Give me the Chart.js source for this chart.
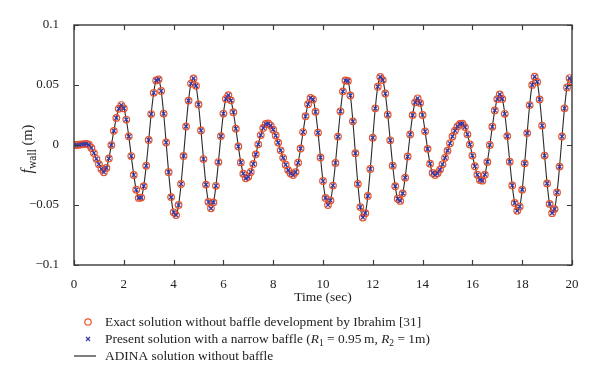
<!DOCTYPE html>
<html><head><meta charset="utf-8">
<script src="https://cdn.jsdelivr.net/npm/chart.js@4.4.1/dist/chart.umd.min.js"></script>
<style>html,body{margin:0;padding:0;background:#fff}#wrap{width:600px;height:381px;position:relative}</style>
</head><body><div id="wrap"><canvas id="c" width="600" height="381"></canvas></div>
<script>
// Time axis (s)
const timeSec = [0,0.1,0.2,0.3,0.4,0.5,0.6,0.7,0.8,0.9,1,1.1,1.2,1.3,1.4,1.5,1.6,1.7,1.8,1.9,
2,2.1,2.2,2.3,2.4,2.5,2.6,2.7,2.8,2.9,3,3.1,3.2,3.3,3.4,3.5,3.6,3.7,3.8,3.9,
4,4.1,4.2,4.3,4.4,4.5,4.6,4.7,4.8,4.9,5,5.1,5.2,5.3,5.4,5.5,5.6,5.7,5.8,5.9,
6,6.1,6.2,6.3,6.4,6.5,6.6,6.7,6.8,6.9,7,7.1,7.2,7.3,7.4,7.5,7.6,7.7,7.8,7.9,
8,8.1,8.2,8.3,8.4,8.5,8.6,8.7,8.8,8.9,9,9.1,9.2,9.3,9.4,9.5,9.6,9.7,9.8,9.9,
10,10.1,10.2,10.3,10.4,10.5,10.6,10.7,10.8,10.9,11,11.1,11.2,11.3,11.4,11.5,11.6,11.7,11.8,11.9,
12,12.1,12.2,12.3,12.4,12.5,12.6,12.7,12.8,12.9,13,13.1,13.2,13.3,13.4,13.5,13.6,13.7,13.8,13.9,
14,14.1,14.2,14.3,14.4,14.5,14.6,14.7,14.8,14.9,15,15.1,15.2,15.3,15.4,15.5,15.6,15.7,15.8,15.9,
16,16.1,16.2,16.3,16.4,16.5,16.6,16.7,16.8,16.9,17,17.1,17.2,17.3,17.4,17.5,17.6,17.7,17.8,17.9,
18,18.1,18.2,18.3,18.4,18.5,18.6,18.7,18.8,18.9,19,19.1,19.2,19.3,19.4,19.5,19.6,19.7,19.8,19.9,20];

// f_wall (m)
const fWall = [0.0000,0.0000,0.0002,0.0005,0.0008,0.0009,0.0002,-0.0025,-0.0067,-0.0115,
-0.0160,-0.0200,-0.0227,-0.0191,-0.0112,-0.0001,0.0118,0.0226,0.0302,0.0333,
0.0305,0.0212,0.0072,-0.0092,-0.0250,-0.0373,-0.0441,-0.0438,-0.0343,-0.0173,
0.0042,0.0258,0.0435,0.0538,0.0547,0.0450,0.0262,0.0021,-0.0227,-0.0434,
-0.0561,-0.0584,-0.0500,-0.0325,-0.0091,0.0155,0.0370,0.0512,0.0555,0.0493,
0.0338,0.0121,-0.0117,-0.0330,-0.0475,-0.0528,-0.0478,-0.0340,-0.0142,0.0074,
0.0262,0.0385,0.0416,0.0372,0.0273,0.0136,-0.0012,-0.0145,-0.0239,-0.0278,
-0.0265,-0.0224,-0.0158,-0.0078,0.0006,0.0083,0.0142,0.0175,0.0179,0.0162,
0.0128,0.0079,0.0020,-0.0044,-0.0107,-0.0164,-0.0209,-0.0238,-0.0250,-0.0226,
-0.0148,-0.0029,0.0108,0.0240,0.0340,0.0392,0.0379,0.0277,0.0103,-0.0104,
-0.0300,-0.0441,-0.0500,-0.0462,-0.0338,-0.0150,0.0070,0.0281,0.0447,0.0538,
0.0534,0.0413,0.0197,-0.0068,-0.0325,-0.0517,-0.0604,-0.0568,-0.0424,-0.0200,
0.0061,0.0306,0.0486,0.0568,0.0541,0.0429,0.0252,0.0039,-0.0172,-0.0343,
-0.0448,-0.0466,-0.0403,-0.0272,-0.0096,0.0088,0.0249,0.0356,0.0389,0.0349,
0.0250,0.0114,-0.0032,-0.0156,-0.0233,-0.0250,-0.0235,-0.0205,-0.0161,-0.0107,
-0.0047,0.0014,0.0071,0.0119,0.0155,0.0176,0.0178,0.0149,0.0089,0.0005,
-0.0088,-0.0177,-0.0248,-0.0291,-0.0297,-0.0247,-0.0141,0.0000,0.0152,0.0288,
0.0383,0.0422,0.0384,0.0260,0.0074,-0.0139,-0.0337,-0.0483,-0.0548,-0.0513,
-0.0372,-0.0153,0.0099,0.0333,0.0501,0.0569,0.0526,0.0380,0.0162,-0.0088,
-0.0320,-0.0491,-0.0568,-0.0534,-0.0395,-0.0180,0.0071,0.0306,0.0480,0.0558,0.0530];

const xTickValues = [0,2,4,6,8,10,12,14,16,18,20];
const xTickLabels = ['0','2','4','6','8','10','12','14','16','18','20'];
const yTickValues = [-0.1,-0.05,0,0.05,0.1];
const yTickLabels = ['\u22120.1','\u22120.05','0','0.05','0.1'];

const exactLabel = 'Exact solution without baffle development by Ibrahim [31]';
const presentLabel = 'Present solution with a narrow baffle';
const adinaLabel = 'ADINA solution without baffle';
const xTitle = 'Time (sec)';

const SERIF = '"Liberation Serif", "Times New Roman", serif';
const CIRCLE_COLOR = '#e8522a';
const CROSS_COLOR = '#3a38a8';
const LINE_COLOR = '#2a2a2a';
const AXIS_COLOR = '#3a3a3a';

function toXY(xs, ys){ return xs.map((x,i)=>({x:x, y:ys[i]})); }

function drawRich(ctx, parts, x, y){
  let cx = x;
  for (const p of parts){
    ctx.font = p.font;
    ctx.fillText(p.t, cx, y + (p.dy||0));
    cx += ctx.measureText(p.t).width;
  }
  return cx - x;
}
function richWidth(ctx, parts){
  let w = 0;
  for (const p of parts){ ctx.font = p.font; w += ctx.measureText(p.t).width; }
  return w;
}

const decorPlugin = {
  id: 'decor',
  afterDraw(chart){
    const ctx = chart.ctx;
    const a = chart.chartArea;
    const xs = chart.scales.x, ys = chart.scales.y;
    ctx.save();
    // box
    ctx.strokeStyle = AXIS_COLOR;
    ctx.lineWidth = 1.4;
    ctx.strokeRect(a.left, a.top, a.right - a.left, a.bottom - a.top);
    // inward ticks
    ctx.lineWidth = 1.2;
    const tl = 5;
    ctx.beginPath();
    xTickValues.forEach(v=>{
      const px = Math.round(xs.getPixelForValue(v)) + 0.5;
      ctx.moveTo(px, a.bottom); ctx.lineTo(px, a.bottom - tl);
      ctx.moveTo(px, a.top); ctx.lineTo(px, a.top + tl);
    });
    yTickValues.forEach(v=>{
      const py = Math.round(ys.getPixelForValue(v)) + 0.5;
      ctx.moveTo(a.left, py); ctx.lineTo(a.left + tl, py);
      ctx.moveTo(a.right, py); ctx.lineTo(a.right - tl, py);
    });
    ctx.stroke();

    ctx.fillStyle = '#222';
    ctx.textBaseline = 'alphabetic';
    // x title
    ctx.font = '13.5px ' + SERIF;
    ctx.textAlign = 'center';
    ctx.fillText(xTitle, (a.left + a.right)/2, 301);
    ctx.textAlign = 'left';

    // y title (rotated)
    const yParts = [
      {t:'f', font:'italic 16px ' + SERIF},
      {t:'wall', font:'11.5px ' + SERIF, dy:3.5},
      {t:' (m)', font:'14.5px ' + SERIF}
    ];
    ctx.save();
    ctx.translate(32, 149);
    ctx.rotate(-Math.PI/2);
    const w = richWidth(ctx, yParts);
    drawRich(ctx, yParts, -w/2, 0);
    ctx.restore();

    // legend
    const tx = 105;
    const rows = [322, 339, 356];
    // row 1: circle
    ctx.strokeStyle = CIRCLE_COLOR; ctx.lineWidth = 1.2;
    ctx.beginPath(); ctx.arc(88, rows[0], 3.2, 0, Math.PI*2); ctx.stroke();
    // row 2: cross
    ctx.strokeStyle = CROSS_COLOR; ctx.lineWidth = 1.2;
    ctx.beginPath();
    ctx.moveTo(86, rows[1]-2); ctx.lineTo(90, rows[1]+2);
    ctx.moveTo(90, rows[1]-2); ctx.lineTo(86, rows[1]+2);
    ctx.stroke();
    // row 3: line
    ctx.strokeStyle = LINE_COLOR; ctx.lineWidth = 1.2;
    ctx.beginPath(); ctx.moveTo(74, rows[2]); ctx.lineTo(96, rows[2]); ctx.stroke();

    const F = '13.4px ' + SERIF, FI = 'italic 13.4px ' + SERIF, FS = '9.5px ' + SERIF;
    ctx.fillStyle = '#222';
    drawRich(ctx, [{t:exactLabel, font:F}], tx, rows[0] + 4);
    drawRich(ctx, [
      {t:presentLabel + ' (', font:F},
      {t:'R', font:FI}, {t:'1', font:FS, dy:3},
      {t:' = 0.95\u2009m, ', font:F},
      {t:'R', font:FI}, {t:'2', font:FS, dy:3},
      {t:' = 1m)', font:F}
    ], tx, rows[1] + 4);
    drawRich(ctx, [{t:adinaLabel, font:F}], tx, rows[2] + 4);
    ctx.restore();
  }
};

new Chart(document.getElementById('c'), {
  type: 'scatter',
  data: {
    datasets: [
      { label: 'ADINA', type: 'line', data: toXY(timeSec, fWall), borderColor: LINE_COLOR,
        borderWidth: 1.1, pointRadius: 0, tension: 0.4, fill: false, order: 3 },
      { label: 'Exact', data: toXY(timeSec, fWall), pointStyle: 'circle', pointRadius: 3.3,
        backgroundColor: 'rgba(0,0,0,0)', borderColor: CIRCLE_COLOR, borderWidth: 1.2, order: 2 },
      { label: 'Present', data: toXY(timeSec, fWall), pointStyle: 'crossRot', pointRadius: 2.7,
        borderColor: CROSS_COLOR, borderWidth: 1.3, order: 1 }
    ]
  },
  options: {
    responsive: false, animation: false, devicePixelRatio: 1,
    layout: { padding: { left: 0, top: 25, right: 28, bottom: 0 } },
    plugins: { legend: { display: false }, tooltip: { enabled: false } },
    scales: {
      x: {
        type: 'linear', min: 0, max: 20,
        afterFit: s => { s.height = 116; },
        afterBuildTicks: s => { s.ticks = xTickValues.map(v=>({value:v})); },
        grid: { display: false }, border: { display: false },
        ticks: { padding: 4, color: '#222', font: { family: SERIF, size: 13 },
          maxRotation: 0, autoSkip: false,
          callback: (v) => { const i = xTickValues.indexOf(v); return i >= 0 ? xTickLabels[i] : ''; } }
      },
      y: {
        min: -0.1, max: 0.1,
        afterFit: s => { s.width = 74; },
        afterBuildTicks: s => { s.ticks = yTickValues.map(v=>({value:v})); },
        grid: { display: false }, border: { display: false },
        ticks: { padding: 7, color: '#222', font: { family: SERIF, size: 13 },
          callback: (v) => { const i = yTickValues.findIndex(t => Math.abs(t - v) < 1e-9); return i >= 0 ? yTickLabels[i] : ''; } }
      }
    }
  },
  plugins: [decorPlugin]
});
</script>
</body></html>
